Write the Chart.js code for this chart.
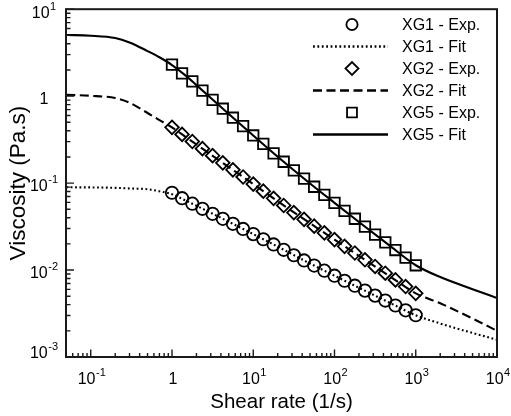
<!DOCTYPE html>
<html>
<head>
<meta charset="utf-8">
<script src="https://cdn.jsdelivr.net/npm/chart.js@4.4.1/dist/chart.umd.min.js"></script>
<style>
  html, body { margin: 0; padding: 0; background: #fff; }
  #wrap { width: 511px; height: 416px; position: relative; }
</style>
</head>
<body>
<div id="wrap"><canvas id="viscChart"></canvas></div>
<script>
// measured points, 8 per decade (shear rate in 1/s, viscosity in Pa.s)
const shearExp = [1, 1.33, 1.78, 2.37, 3.16, 4.22, 5.62, 7.5, 10, 13.3, 17.8, 23.7, 31.6,
                  42.2, 56.2, 75, 100, 133, 178, 237, 316, 422, 562, 750, 1000];
const xg1Exp = [0.0774, 0.0670, 0.0580, 0.0506, 0.0443, 0.0388, 0.0340, 0.0297, 0.0259, 0.0226,
                0.0197, 0.0171, 0.0148, 0.0129, 0.01125, 0.00984, 0.00861, 0.00753, 0.00661,
                0.00580, 0.00508, 0.00446, 0.00391, 0.00344, 0.00302];
const xg2Exp = [0.438, 0.363, 0.301, 0.249, 0.207, 0.171, 0.142, 0.1175, 0.0975, 0.0807, 0.0668,
                0.0553, 0.0458, 0.0383, 0.0320, 0.0268, 0.0224, 0.01875, 0.0157, 0.01312, 0.0110,
                0.0092, 0.0077, 0.00646, 0.0054];
const xg5Exp = [2.30, 1.83, 1.48, 1.16, 0.907, 0.717, 0.565, 0.452, 0.353, 0.282, 0.220, 0.176,
                0.140, 0.1125, 0.0908, 0.0733, 0.0593, 0.0480, 0.0389, 0.0316, 0.0256, 0.0208,
                0.0170, 0.0139, 0.01135];

// fitted curves
const shearFit = [0.05, 0.1, 0.2, 0.3, 0.5, 0.7, 1, 1.5, 2, 5, 10, 20, 50, 100, 200, 500,
                  1000, 2000, 5000, 10000];
const xg1Fit = [0.0895, 0.0892, 0.0882, 0.0868, 0.0850, 0.0805, 0.0745, 0.0625, 0.0549, 0.0359,
                0.0259, 0.0186, 0.01189, 0.00861, 0.00625, 0.00412, 0.00302, 0.00243, 0.00189, 0.00158];
const xg2Fit = [1.035, 1.01, 0.95, 0.84, 0.64, 0.53, 0.438, 0.335, 0.278, 0.153, 0.0975, 0.0618,
                0.0345, 0.0224, 0.01458, 0.00826, 0.0054, 0.00415, 0.00277, 0.0020];
const xg5Fit = [5.05, 4.96, 4.67, 4.15, 3.30, 2.80, 2.28, 1.70, 1.34, 0.624, 0.353, 0.201, 0.0991,
                0.0593, 0.0357, 0.01845, 0.01135, 0.0083, 0.00603, 0.00477];

const seriesLabels = ['XG1 - Exp.', 'XG1 - Fit', 'XG2 - Exp.', 'XG2 - Fit', 'XG5 - Exp.', 'XG5 - Fit'];

// axes
const xTicks = [0.1, 1, 10, 100, 1000, 10000];
const xTickLabels = ['10^-1', '1', '10^1', '10^2', '10^3', '10^4'];
const yTicks = [10, 1, 0.1, 0.01, 0.001];
const yTickLabels = ['10^1', '1', '10^-1', '10^-2', '10^-3'];
const xTitle = 'Shear rate (1/s)';
const yTitle = 'Viscosity (Pa.s)';

const FONT = "'Liberation Sans', Arial, Helvetica, sans-serif";
const toXY = (xs, ys) => xs.map((v, i) => ({ x: v, y: ys[i] }));

const markerStyle = (style, r, legendR) => ({
    showLine: false,
    pointStyle: style,
    pointRadius: r,
    legendRadius: legendR,
    pointBorderWidth: 1.8,
    pointBorderColor: '#000',
    pointBackgroundColor: 'rgba(0,0,0,0)',
    order: 1
});
const fitStyle = (dash) => ({
    pointRadius: 0,
    borderColor: '#000',
    borderWidth: 2.1,
    borderDash: dash,
    borderCapStyle: 'butt',
    fill: false,
    cubicInterpolationMode: 'monotone',
    order: 0
});

const datasets = [
    { label: seriesLabels[0], data: toXY(shearExp, xg1Exp), ...markerStyle('circle', 6.2, 5.6) },
    { label: seriesLabels[1], data: toXY(shearFit, xg1Fit), ...fitStyle([1.8, 2.6]) },
    { label: seriesLabels[2], data: toXY(shearExp, xg2Exp), ...markerStyle('rectRot', 6.8, 6.5) },
    { label: seriesLabels[3], data: toXY(shearFit, xg2Fit), ...fitStyle([9, 4.5]) },
    { label: seriesLabels[4], data: toXY(shearExp, xg5Exp), ...markerStyle('rect', 7.4, 7) },
    { label: seriesLabels[5], data: toXY(shearFit, xg5Fit), ...fitStyle([]) }
];

// draws "10^-1" style labels with a raised exponent
function drawPowerLabel(ctx, text, cx, baseY) {
    const [base, exp] = text.split('^');
    ctx.font = '16px ' + FONT;
    const wb = ctx.measureText(base).width;
    ctx.font = '11px ' + FONT;
    const we = exp ? ctx.measureText(exp).width + 0.5 : 0;
    const x0 = cx - (wb + we) / 2;
    ctx.textAlign = 'left';
    ctx.textBaseline = 'alphabetic';
    ctx.font = '16px ' + FONT;
    ctx.fillText(base, x0, baseY);
    if (exp) {
        ctx.font = '11px ' + FONT;
        ctx.fillText(exp, x0 + wb + 0.5, baseY - 8);
    }
}

const framePlugin = {
    id: 'frame',
    afterDraw(chart) {
        const { ctx, chartArea: a, scales: { x, y } } = chart;
        ctx.save();
        ctx.fillStyle = '#000';
        ctx.strokeStyle = '#1a1a1a';

        // box
        ctx.lineWidth = 2;
        ctx.strokeRect(a.left, a.top, a.right - a.left, a.bottom - a.top);

        // inward ticks, major and minor
        ctx.lineWidth = 1.4;
        ctx.beginPath();
        [0.01, 0.1, 1, 10, 100, 1000].forEach(dec => {
            for (let m = 2; m <= 9; m++) {
                const v = m * dec;
                if (v < x.min || v > x.max) continue;
                const px = x.getPixelForValue(v);
                ctx.moveTo(px, a.bottom);
                ctx.lineTo(px, a.bottom - 4);
            }
        });
        xTicks.forEach(v => {
            const px = x.getPixelForValue(v);
            ctx.moveTo(px, a.bottom);
            ctx.lineTo(px, a.bottom - 7.5);
        });
        [0.001, 0.01, 0.1, 1].forEach(dec => {
            for (let m = 2; m <= 9; m++) {
                const py = y.getPixelForValue(m * dec);
                ctx.moveTo(a.left, py);
                ctx.lineTo(a.left + 4.5, py);
            }
        });
        yTicks.forEach(v => {
            const py = y.getPixelForValue(v);
            ctx.moveTo(a.left, py);
            ctx.lineTo(a.left + 8, py);
        });
        ctx.stroke();

        // tick labels
        xTicks.forEach((v, i) => {
            drawPowerLabel(ctx, xTickLabels[i], x.getPixelForValue(v) + 1, a.bottom + 27);
        });
        yTicks.forEach((v, i) => {
            const py = Math.min(Math.max(y.getPixelForValue(v) + 2, 12), a.bottom - 5);
            drawPowerLabel(ctx, yTickLabels[i], 44, py + 6);
        });

        // axis titles
        ctx.font = '20.5px ' + FONT;
        ctx.textAlign = 'center';
        ctx.textBaseline = 'alphabetic';
        ctx.fillText(xTitle, (a.left + a.right) / 2, a.bottom + 51);
        ctx.save();
        ctx.font = '22.5px ' + FONT;
        ctx.translate(24.5, (a.top + a.bottom) / 2);
        ctx.rotate(-Math.PI / 2);
        ctx.fillText(yTitle, 0, 0);
        ctx.restore();

        // legend: sample on the left, text on the right
        const rowY = [24.5, 46.5, 68.5, 90.5, 112.5, 134.5];
        const lineL = 313, lineR = 388, mid = 352, textX = 402;
        chart.data.datasets.forEach((ds, i) => {
            const yy = rowY[i];
            if (ds.showLine === false) {
                ctx.fillStyle = 'rgba(0,0,0,0)';
                ctx.strokeStyle = '#000';
                ctx.lineWidth = ds.pointBorderWidth;
                Chart.helpers.drawPoint(ctx, {
                    pointStyle: ds.pointStyle,
                    radius: ds.legendRadius,
                    borderWidth: ds.pointBorderWidth,
                    rotation: 0
                }, mid, yy);
            } else {
                ctx.beginPath();
                ctx.setLineDash(ds.borderDash);
                ctx.lineWidth = ds.borderWidth + 0.3;
                ctx.strokeStyle = '#000';
                ctx.moveTo(lineL, yy);
                ctx.lineTo(lineR, yy);
                ctx.stroke();
                ctx.setLineDash([]);
            }
            ctx.font = '16px ' + FONT;
            ctx.textAlign = 'left';
            ctx.textBaseline = 'middle';
            ctx.fillStyle = '#000';
            ctx.fillText(ds.label, textX, yy + 1);
        });
        ctx.restore();
    }
};

new Chart(document.getElementById('viscChart'), {
    type: 'line',
    data: { datasets },
    options: {
        responsive: true,
        maintainAspectRatio: false,
        animation: false,
        events: [],
        layout: { padding: { left: 66, top: 6, right: 14, bottom: 59 } },
        scales: {
            x: { type: 'logarithmic', min: 0.0496, max: 10000, display: false },
            y: { type: 'logarithmic', min: 0.001, max: 10, display: false }
        },
        plugins: {
            legend: { display: false },
            tooltip: { enabled: false }
        }
    },
    plugins: [framePlugin]
});
</script>
</body>
</html>
